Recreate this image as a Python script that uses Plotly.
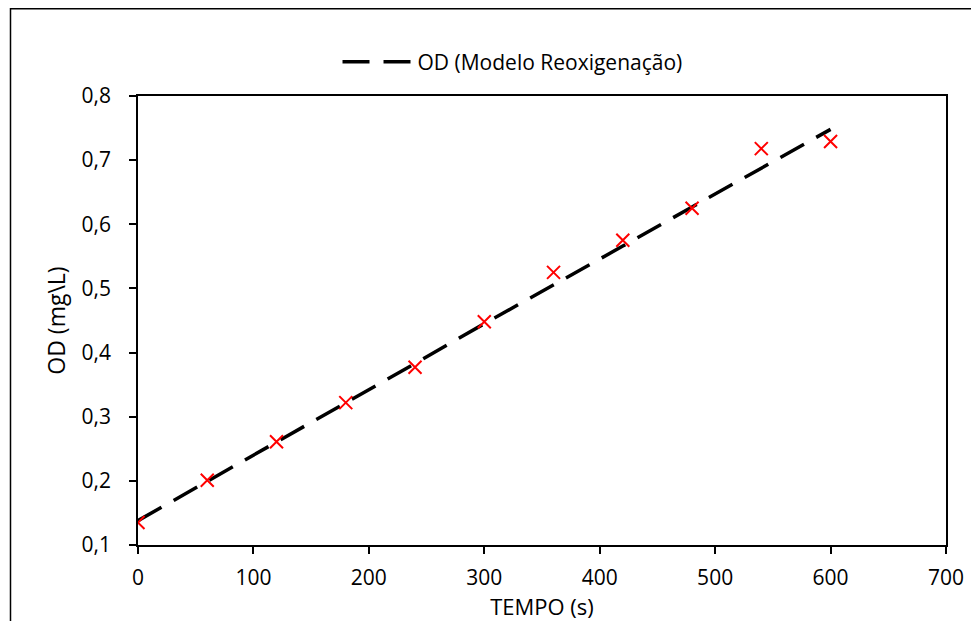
import plotly.graph_objects as go

tempo = [0, 60, 120, 180, 240, 300, 360, 420, 480, 540, 600]
od_exp = [0.135, 0.201, 0.261, 0.322, 0.377, 0.448, 0.525, 0.575, 0.625, 0.718, 0.729]
od_modelo = [0.138, 0.199, 0.260, 0.321, 0.383, 0.445, 0.505, 0.566, 0.627, 0.688, 0.748]

FONT = "Open Sans"

fig = go.Figure()
fig.add_trace(go.Scatter(
    x=tempo, y=od_modelo, mode="lines", name="OD (Modelo Reoxigenação)",
    line=dict(color="black", width=3.5, dash="27px,14px"),
    showlegend=True,
))
fig.add_trace(go.Scatter(
    x=tempo, y=od_exp, mode="markers", name="OD (Experimental)",
    marker=dict(symbol="x-thin", size=13, line=dict(color="#ff0000", width=2)),
    showlegend=False,
))

# outer chart border
fig.add_shape(type="rect", xref="paper", yref="paper",
              x0=-0.1578, x1=1.07, y0=-0.22, y1=1.1943,
              line=dict(color="black", width=1.5), layer="below")

fig.update_layout(
    width=979, height=621,
    margin=dict(l=130, r=41, t=88, b=84),
    paper_bgcolor="white", plot_bgcolor="white",
    separators=",.",
    font=dict(family=FONT, size=20, color="black"),
    showlegend=True,
    legend=dict(orientation="h", x=0.4635, xanchor="center", y=1.0757, yanchor="middle",
                font=dict(family=FONT, size=21, color="black"),
                bgcolor="rgba(0,0,0,0)", itemwidth=70),
    xaxis=dict(range=[0, 700], dtick=100, tick0=0,
               showline=True, linecolor="black", linewidth=1.5, mirror=True,
               ticks="outside", ticklen=7, tickcolor="black", tickwidth=1.5,
               ticklabelstandoff=6,
               tickfont=dict(family=FONT, size=21),
               showgrid=False, zeroline=False,
               title=dict(text="TEMPO (s)", font=dict(family=FONT, size=22), standoff=0)),
    yaxis=dict(range=[0.1, 0.8], dtick=0.1, tick0=0.1, tickformat=".1f",
               showline=True, linecolor="black", linewidth=1.5, mirror=True,
               ticks="outside", ticklen=7, tickcolor="black", tickwidth=1.5,
               ticklabelstandoff=14,
               tickfont=dict(family=FONT, size=21),
               showgrid=False, zeroline=False,
               title=dict(text="OD (mg\\L)", font=dict(family=FONT, size=23), standoff=10)),
)

fig.write_html("out.html")
